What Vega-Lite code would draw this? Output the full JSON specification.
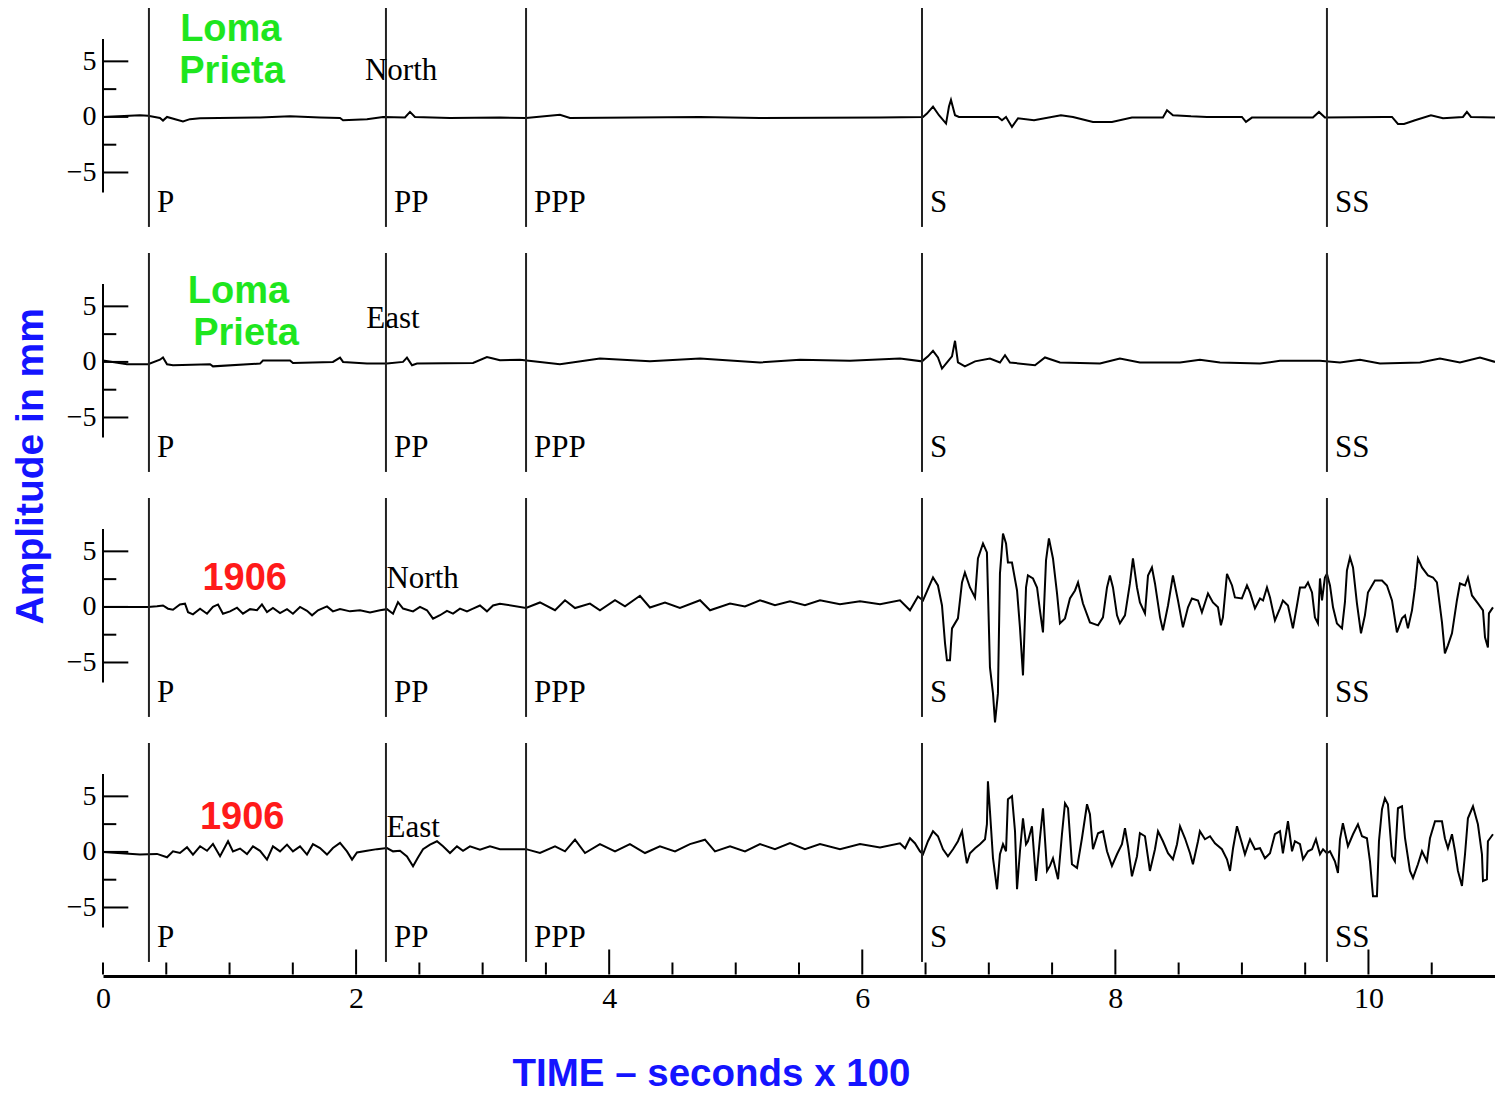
{
  "$schema": "https://vega.github.io/schema/vega-lite/v6.json",
  "background": "white",
  "padding": {"left": 12, "top": 0, "right": 0, "bottom": 0},
  "title": {"text": "Amplitude in mm", "orient": "left", "anchor": "middle", "font": "Liberation Sans", "fontWeight": "bold", "fontSize": 39, "color": "#1414ff", "offset": 15, "dx": 80},
  "data": {"values": [
    {"p":1,"k":"tr","t":0,"a":0},{"p":1,"k":"tr","t":0.292,"a":0.15},{"p":1,"k":"tr","t":0.356,"a":0.1},{"p":1,"k":"tr","t":0.45,"a":-0.1},{"p":1,"k":"tr","t":0.474,"a":-0.33},{"p":1,"k":"tr","t":0.506,"a":0},{"p":1,"k":"tr","t":0.632,"a":-0.4},{"p":1,"k":"tr","t":0.687,"a":-0.2},{"p":1,"k":"tr","t":0.767,"a":-0.12},{"p":1,"k":"tr","t":1.241,"a":-0.05},{"p":1,"k":"tr","t":1.478,"a":0.05},{"p":1,"k":"tr","t":1.715,"a":-0.05},{"p":1,"k":"tr","t":1.873,"a":-0.1},{"p":1,"k":"tr","t":1.897,"a":-0.3},{"p":1,"k":"tr","t":2.086,"a":-0.2},{"p":1,"k":"tr","t":2.213,"a":0},{"p":1,"k":"tr","t":2.386,"a":-0.05},{"p":1,"k":"tr","t":2.426,"a":0.45},{"p":1,"k":"tr","t":2.465,"a":0},{"p":1,"k":"tr","t":2.742,"a":-0.1},{"p":1,"k":"tr","t":3.137,"a":-0.05},{"p":1,"k":"tr","t":3.343,"a":-0.1},{"p":1,"k":"tr","t":3.611,"a":0.2},{"p":1,"k":"tr","t":3.69,"a":-0.1},{"p":1,"k":"tr","t":4.718,"a":0},{"p":1,"k":"tr","t":5.192,"a":-0.1},{"p":1,"k":"tr","t":6.14,"a":-0.05},{"p":1,"k":"tr","t":6.48,"a":0},{"p":1,"k":"tr","t":6.511,"a":0.3},{"p":1,"k":"tr","t":6.559,"a":0.93},{"p":1,"k":"tr","t":6.606,"a":0.15},{"p":1,"k":"tr","t":6.662,"a":-0.6},{"p":1,"k":"tr","t":6.685,"a":0.93},{"p":1,"k":"tr","t":6.701,"a":1.53},{"p":1,"k":"tr","t":6.733,"a":0.15},{"p":1,"k":"tr","t":6.764,"a":0},{"p":1,"k":"tr","t":7.072,"a":0},{"p":1,"k":"tr","t":7.104,"a":-0.3},{"p":1,"k":"tr","t":7.136,"a":0},{"p":1,"k":"tr","t":7.183,"a":-0.9},{"p":1,"k":"tr","t":7.231,"a":-0.12},{"p":1,"k":"tr","t":7.357,"a":-0.3},{"p":1,"k":"tr","t":7.57,"a":0.15},{"p":1,"k":"tr","t":7.665,"a":0},{"p":1,"k":"tr","t":7.823,"a":-0.45},{"p":1,"k":"tr","t":7.973,"a":-0.45},{"p":1,"k":"tr","t":8.131,"a":-0.06},{"p":1,"k":"tr","t":8.376,"a":-0.06},{"p":1,"k":"tr","t":8.408,"a":0.6},{"p":1,"k":"tr","t":8.455,"a":0.15},{"p":1,"k":"tr","t":8.598,"a":0.05},{"p":1,"k":"tr","t":8.724,"a":0},{"p":1,"k":"tr","t":9.0,"a":0},{"p":1,"k":"tr","t":9.032,"a":-0.45},{"p":1,"k":"tr","t":9.079,"a":-0.06},{"p":1,"k":"tr","t":9.561,"a":-0.06},{"p":1,"k":"tr","t":9.609,"a":0.45},{"p":1,"k":"tr","t":9.656,"a":-0.06},{"p":1,"k":"tr","t":10.122,"a":0},{"p":1,"k":"tr","t":10.186,"a":0},{"p":1,"k":"tr","t":10.233,"a":-0.63},{"p":1,"k":"tr","t":10.281,"a":-0.63},{"p":1,"k":"tr","t":10.368,"a":-0.3},{"p":1,"k":"tr","t":10.494,"a":0.15},{"p":1,"k":"tr","t":10.589,"a":-0.12},{"p":1,"k":"tr","t":10.747,"a":0},{"p":1,"k":"tr","t":10.778,"a":0.45},{"p":1,"k":"tr","t":10.81,"a":0},{"p":1,"k":"tr","t":11.0,"a":-0.05},

    {"p":2,"k":"tr","t":0,"a":0.13},{"p":2,"k":"tr","t":0.19,"a":-0.22},{"p":2,"k":"tr","t":0.356,"a":-0.2},{"p":2,"k":"tr","t":0.45,"a":0.2},{"p":2,"k":"tr","t":0.474,"a":0.4},{"p":2,"k":"tr","t":0.506,"a":-0.22},{"p":2,"k":"tr","t":0.553,"a":-0.3},{"p":2,"k":"tr","t":0.846,"a":-0.2},{"p":2,"k":"tr","t":0.869,"a":-0.4},{"p":2,"k":"tr","t":1.241,"a":-0.15},{"p":2,"k":"tr","t":1.264,"a":0.13},{"p":2,"k":"tr","t":1.478,"a":0.13},{"p":2,"k":"tr","t":1.501,"a":-0.1},{"p":2,"k":"tr","t":1.817,"a":0},{"p":2,"k":"tr","t":1.873,"a":0.38},{"p":2,"k":"tr","t":1.897,"a":0},{"p":2,"k":"tr","t":2.086,"a":-0.15},{"p":2,"k":"tr","t":2.244,"a":-0.15},{"p":2,"k":"tr","t":2.371,"a":0},{"p":2,"k":"tr","t":2.402,"a":0.38},{"p":2,"k":"tr","t":2.442,"a":-0.3},{"p":2,"k":"tr","t":2.481,"a":-0.15},{"p":2,"k":"tr","t":2.924,"a":-0.1},{"p":2,"k":"tr","t":3.034,"a":0.43},{"p":2,"k":"tr","t":3.082,"a":0.3},{"p":2,"k":"tr","t":3.137,"a":0.15},{"p":2,"k":"tr","t":3.295,"a":0.2},{"p":2,"k":"tr","t":3.611,"a":-0.2},{"p":2,"k":"tr","t":3.927,"a":0.3},{"p":2,"k":"tr","t":4.322,"a":0.05},{"p":2,"k":"tr","t":4.718,"a":0.3},{"p":2,"k":"tr","t":5.192,"a":-0.05},{"p":2,"k":"tr","t":5.508,"a":0.2},{"p":2,"k":"tr","t":5.903,"a":0.1},{"p":2,"k":"tr","t":6.298,"a":0.3},{"p":2,"k":"tr","t":6.472,"a":0.05},{"p":2,"k":"tr","t":6.519,"a":0.5},{"p":2,"k":"tr","t":6.559,"a":1.0},{"p":2,"k":"tr","t":6.598,"a":0.4},{"p":2,"k":"tr","t":6.63,"a":-0.6},{"p":2,"k":"tr","t":6.67,"a":-0.05},{"p":2,"k":"tr","t":6.709,"a":0.5},{"p":2,"k":"tr","t":6.733,"a":1.9},{"p":2,"k":"tr","t":6.756,"a":-0.05},{"p":2,"k":"tr","t":6.811,"a":-0.4},{"p":2,"k":"tr","t":6.891,"a":0.05},{"p":2,"k":"tr","t":7.009,"a":0.3},{"p":2,"k":"tr","t":7.088,"a":-0.05},{"p":2,"k":"tr","t":7.128,"a":0.6},{"p":2,"k":"tr","t":7.167,"a":-0.05},{"p":2,"k":"tr","t":7.365,"a":-0.3},{"p":2,"k":"tr","t":7.444,"a":0.4},{"p":2,"k":"tr","t":7.562,"a":-0.05},{"p":2,"k":"tr","t":7.878,"a":-0.15},{"p":2,"k":"tr","t":8.036,"a":0.3},{"p":2,"k":"tr","t":8.194,"a":-0.05},{"p":2,"k":"tr","t":8.511,"a":-0.05},{"p":2,"k":"tr","t":8.668,"a":0.2},{"p":2,"k":"tr","t":8.827,"a":-0.05},{"p":2,"k":"tr","t":9.143,"a":-0.15},{"p":2,"k":"tr","t":9.301,"a":0.1},{"p":2,"k":"tr","t":9.617,"a":0.1},{"p":2,"k":"tr","t":9.775,"a":-0.05},{"p":2,"k":"tr","t":9.933,"a":0.2},{"p":2,"k":"tr","t":10.091,"a":-0.15},{"p":2,"k":"tr","t":10.407,"a":-0.05},{"p":2,"k":"tr","t":10.565,"a":0.3},{"p":2,"k":"tr","t":10.723,"a":-0.05},{"p":2,"k":"tr","t":10.881,"a":0.4},{"p":2,"k":"tr","t":11.0,"a":0},

    {"p":3,"k":"tr","t":0,"a":0},{"p":3,"k":"tr","t":0.356,"a":0},{"p":3,"k":"tr","t":0.427,"a":0.05},{"p":3,"k":"tr","t":0.474,"a":0.13},{"p":3,"k":"tr","t":0.514,"a":-0.16},{"p":3,"k":"tr","t":0.553,"a":-0.25},{"p":3,"k":"tr","t":0.608,"a":0.22},{"p":3,"k":"tr","t":0.648,"a":0.29},{"p":3,"k":"tr","t":0.672,"a":-0.47},{"p":3,"k":"tr","t":0.711,"a":-0.67},{"p":3,"k":"tr","t":0.767,"a":-0.16},{"p":3,"k":"tr","t":0.822,"a":-0.61},{"p":3,"k":"tr","t":0.869,"a":0},{"p":3,"k":"tr","t":0.909,"a":0.22},{"p":3,"k":"tr","t":0.948,"a":-0.61},{"p":3,"k":"tr","t":1.004,"a":-0.4},{"p":3,"k":"tr","t":1.059,"a":-0.07},{"p":3,"k":"tr","t":1.106,"a":-0.61},{"p":3,"k":"tr","t":1.162,"a":-0.2},{"p":3,"k":"tr","t":1.217,"a":-0.3},{"p":3,"k":"tr","t":1.256,"a":0.22},{"p":3,"k":"tr","t":1.296,"a":-0.47},{"p":3,"k":"tr","t":1.343,"a":-0.1},{"p":3,"k":"tr","t":1.399,"a":-0.56},{"p":3,"k":"tr","t":1.454,"a":-0.2},{"p":3,"k":"tr","t":1.501,"a":-0.61},{"p":3,"k":"tr","t":1.557,"a":0},{"p":3,"k":"tr","t":1.612,"a":-0.35},{"p":3,"k":"tr","t":1.652,"a":-0.76},{"p":3,"k":"tr","t":1.699,"a":-0.3},{"p":3,"k":"tr","t":1.77,"a":0.05},{"p":3,"k":"tr","t":1.817,"a":-0.4},{"p":3,"k":"tr","t":1.873,"a":-0.2},{"p":3,"k":"tr","t":1.952,"a":-0.4},{"p":3,"k":"tr","t":2.031,"a":-0.3},{"p":3,"k":"tr","t":2.11,"a":-0.5},{"p":3,"k":"tr","t":2.189,"a":-0.3},{"p":3,"k":"tr","t":2.244,"a":-0.2},{"p":3,"k":"tr","t":2.292,"a":-0.61},{"p":3,"k":"tr","t":2.331,"a":0.43},{"p":3,"k":"tr","t":2.371,"a":-0.15},{"p":3,"k":"tr","t":2.45,"a":-0.4},{"p":3,"k":"tr","t":2.505,"a":0},{"p":3,"k":"tr","t":2.56,"a":-0.3},{"p":3,"k":"tr","t":2.608,"a":-1.06},{"p":3,"k":"tr","t":2.663,"a":-0.75},{"p":3,"k":"tr","t":2.718,"a":-0.35},{"p":3,"k":"tr","t":2.766,"a":-0.6},{"p":3,"k":"tr","t":2.821,"a":-0.15},{"p":3,"k":"tr","t":2.876,"a":-0.4},{"p":3,"k":"tr","t":2.924,"a":-0.15},{"p":3,"k":"tr","t":2.979,"a":0.13},{"p":3,"k":"tr","t":3.034,"a":-0.4},{"p":3,"k":"tr","t":3.082,"a":0.13},{"p":3,"k":"tr","t":3.137,"a":0.29},{"p":3,"k":"tr","t":3.343,"a":-0.1},{"p":3,"k":"tr","t":3.453,"a":0.4},{"p":3,"k":"tr","t":3.572,"a":-0.3},{"p":3,"k":"tr","t":3.651,"a":0.6},{"p":3,"k":"tr","t":3.73,"a":-0.1},{"p":3,"k":"tr","t":3.848,"a":0.3},{"p":3,"k":"tr","t":3.927,"a":-0.3},{"p":3,"k":"tr","t":4.046,"a":0.6},{"p":3,"k":"tr","t":4.125,"a":0.05},{"p":3,"k":"tr","t":4.243,"a":1.0},{"p":3,"k":"tr","t":4.322,"a":-0.05},{"p":3,"k":"tr","t":4.441,"a":0.4},{"p":3,"k":"tr","t":4.559,"a":-0.1},{"p":3,"k":"tr","t":4.718,"a":0.6},{"p":3,"k":"tr","t":4.797,"a":-0.3},{"p":3,"k":"tr","t":4.955,"a":0.3},{"p":3,"k":"tr","t":5.073,"a":0.05},{"p":3,"k":"tr","t":5.192,"a":0.6},{"p":3,"k":"tr","t":5.31,"a":0.15},{"p":3,"k":"tr","t":5.429,"a":0.5},{"p":3,"k":"tr","t":5.547,"a":0.15},{"p":3,"k":"tr","t":5.666,"a":0.6},{"p":3,"k":"tr","t":5.824,"a":0.25},{"p":3,"k":"tr","t":5.982,"a":0.5},{"p":3,"k":"tr","t":6.14,"a":0.25},{"p":3,"k":"tr","t":6.298,"a":0.6},{"p":3,"k":"tr","t":6.377,"a":-0.3},{"p":3,"k":"tr","t":6.44,"a":0.94},{"p":3,"k":"tr","t":6.48,"a":0.58},{"p":3,"k":"tr","t":6.559,"a":2.65},{"p":3,"k":"tr","t":6.598,"a":1.93},{"p":3,"k":"tr","t":6.63,"a":0.13},{"p":3,"k":"tr","t":6.654,"a":-3.28},{"p":3,"k":"tr","t":6.669,"a":-4.81},{"p":3,"k":"tr","t":6.693,"a":-4.81},{"p":3,"k":"tr","t":6.709,"a":-1.93},{"p":3,"k":"tr","t":6.756,"a":-1.03},{"p":3,"k":"tr","t":6.788,"a":2.2},{"p":3,"k":"tr","t":6.811,"a":3.1},{"p":3,"k":"tr","t":6.851,"a":1.75},{"p":3,"k":"tr","t":6.891,"a":0.85},{"p":3,"k":"tr","t":6.914,"a":4.36},{"p":3,"k":"tr","t":6.954,"a":5.71},{"p":3,"k":"tr","t":6.985,"a":4.9},{"p":3,"k":"tr","t":6.993,"a":1.48},{"p":3,"k":"tr","t":7.009,"a":-5.44},{"p":3,"k":"tr","t":7.033,"a":-7.78},{"p":3,"k":"tr","t":7.049,"a":-10.4},{"p":3,"k":"tr","t":7.072,"a":-7.78},{"p":3,"k":"tr","t":7.088,"a":3.0},{"p":3,"k":"tr","t":7.112,"a":6.6},{"p":3,"k":"tr","t":7.136,"a":5.71},{"p":3,"k":"tr","t":7.151,"a":4.0},{"p":3,"k":"tr","t":7.183,"a":4.0},{"p":3,"k":"tr","t":7.223,"a":1.48},{"p":3,"k":"tr","t":7.246,"a":-1.84},{"p":3,"k":"tr","t":7.27,"a":-6.16},{"p":3,"k":"tr","t":7.294,"a":1.75},{"p":3,"k":"tr","t":7.309,"a":2.83},{"p":3,"k":"tr","t":7.349,"a":2.56},{"p":3,"k":"tr","t":7.381,"a":1.75},{"p":3,"k":"tr","t":7.404,"a":-0.31},{"p":3,"k":"tr","t":7.428,"a":-2.29},{"p":3,"k":"tr","t":7.452,"a":4.18},{"p":3,"k":"tr","t":7.475,"a":6.16},{"p":3,"k":"tr","t":7.507,"a":4.36},{"p":3,"k":"tr","t":7.539,"a":1.21},{"p":3,"k":"tr","t":7.562,"a":-1.48},{"p":3,"k":"tr","t":7.602,"a":-1.03},{"p":3,"k":"tr","t":7.641,"a":0.76},{"p":3,"k":"tr","t":7.681,"a":1.48},{"p":3,"k":"tr","t":7.705,"a":2.2},{"p":3,"k":"tr","t":7.744,"a":0.31},{"p":3,"k":"tr","t":7.799,"a":-1.39},{"p":3,"k":"tr","t":7.863,"a":-1.66},{"p":3,"k":"tr","t":7.902,"a":-0.94},{"p":3,"k":"tr","t":7.934,"a":1.75},{"p":3,"k":"tr","t":7.957,"a":2.83},{"p":3,"k":"tr","t":7.981,"a":1.75},{"p":3,"k":"tr","t":8.013,"a":-0.76},{"p":3,"k":"tr","t":8.036,"a":-1.48},{"p":3,"k":"tr","t":8.076,"a":-0.76},{"p":3,"k":"tr","t":8.115,"a":2.11},{"p":3,"k":"tr","t":8.139,"a":4.36},{"p":3,"k":"tr","t":8.171,"a":1.75},{"p":3,"k":"tr","t":8.194,"a":0.4},{"p":3,"k":"tr","t":8.234,"a":-0.58},{"p":3,"k":"tr","t":8.258,"a":2.83},{"p":3,"k":"tr","t":8.289,"a":3.55},{"p":3,"k":"tr","t":8.313,"a":2.11},{"p":3,"k":"tr","t":8.353,"a":-0.94},{"p":3,"k":"tr","t":8.376,"a":-2.11},{"p":3,"k":"tr","t":8.416,"a":0.13},{"p":3,"k":"tr","t":8.455,"a":2.83},{"p":3,"k":"tr","t":8.495,"a":0.58},{"p":3,"k":"tr","t":8.534,"a":-1.84},{"p":3,"k":"tr","t":8.574,"a":-0.04},{"p":3,"k":"tr","t":8.605,"a":0.76},{"p":3,"k":"tr","t":8.653,"a":0.58},{"p":3,"k":"tr","t":8.684,"a":-0.49},{"p":3,"k":"tr","t":8.732,"a":1.21},{"p":3,"k":"tr","t":8.771,"a":0.4},{"p":3,"k":"tr","t":8.811,"a":-0.04},{"p":3,"k":"tr","t":8.834,"a":-1.66},{"p":3,"k":"tr","t":8.85,"a":-0.94},{"p":3,"k":"tr","t":8.882,"a":2.98},{"p":3,"k":"tr","t":8.922,"a":1.93},{"p":3,"k":"tr","t":8.945,"a":0.85},{"p":3,"k":"tr","t":9.0,"a":0.76},{"p":3,"k":"tr","t":9.04,"a":1.93},{"p":3,"k":"tr","t":9.064,"a":1.3},{"p":3,"k":"tr","t":9.103,"a":-0.13},{"p":3,"k":"tr","t":9.143,"a":0.76},{"p":3,"k":"tr","t":9.167,"a":0.58},{"p":3,"k":"tr","t":9.198,"a":1.75},{"p":3,"k":"tr","t":9.222,"a":0.85},{"p":3,"k":"tr","t":9.261,"a":-1.21},{"p":3,"k":"tr","t":9.301,"a":-0.13},{"p":3,"k":"tr","t":9.324,"a":0.58},{"p":3,"k":"tr","t":9.364,"a":0.13},{"p":3,"k":"tr","t":9.403,"a":-1.93},{"p":3,"k":"tr","t":9.435,"a":0.13},{"p":3,"k":"tr","t":9.459,"a":1.75},{"p":3,"k":"tr","t":9.498,"a":1.75},{"p":3,"k":"tr","t":9.522,"a":2.2},{"p":3,"k":"tr","t":9.554,"a":1.3},{"p":3,"k":"tr","t":9.577,"a":-0.94},{"p":3,"k":"tr","t":9.601,"a":-1.48},{"p":3,"k":"tr","t":9.617,"a":2.56},{"p":3,"k":"tr","t":9.633,"a":0.58},{"p":3,"k":"tr","t":9.656,"a":2.65},{"p":3,"k":"tr","t":9.672,"a":2.98},{"p":3,"k":"tr","t":9.696,"a":1.93},{"p":3,"k":"tr","t":9.72,"a":-0.04},{"p":3,"k":"tr","t":9.751,"a":-1.48},{"p":3,"k":"tr","t":9.791,"a":-1.93},{"p":3,"k":"tr","t":9.814,"a":0.4},{"p":3,"k":"tr","t":9.83,"a":3.28},{"p":3,"k":"tr","t":9.854,"a":4.45},{"p":3,"k":"tr","t":9.878,"a":3.55},{"p":3,"k":"tr","t":9.909,"a":0.31},{"p":3,"k":"tr","t":9.941,"a":-2.38},{"p":3,"k":"tr","t":9.972,"a":-0.76},{"p":3,"k":"tr","t":9.996,"a":1.3},{"p":3,"k":"tr","t":10.051,"a":2.38},{"p":3,"k":"tr","t":10.107,"a":2.38},{"p":3,"k":"tr","t":10.146,"a":1.93},{"p":3,"k":"tr","t":10.186,"a":0.58},{"p":3,"k":"tr","t":10.225,"a":-2.29},{"p":3,"k":"tr","t":10.265,"a":-1.03},{"p":3,"k":"tr","t":10.289,"a":-0.76},{"p":3,"k":"tr","t":10.312,"a":-1.93},{"p":3,"k":"tr","t":10.344,"a":-0.31},{"p":3,"k":"tr","t":10.368,"a":1.75},{"p":3,"k":"tr","t":10.391,"a":4.36},{"p":3,"k":"tr","t":10.423,"a":3.55},{"p":3,"k":"tr","t":10.47,"a":2.83},{"p":3,"k":"tr","t":10.51,"a":2.65},{"p":3,"k":"tr","t":10.541,"a":2.2},{"p":3,"k":"tr","t":10.581,"a":-1.39},{"p":3,"k":"tr","t":10.604,"a":-4.18},{"p":3,"k":"tr","t":10.628,"a":-3.46},{"p":3,"k":"tr","t":10.66,"a":-2.38},{"p":3,"k":"tr","t":10.699,"a":0.58},{"p":3,"k":"tr","t":10.723,"a":2.11},{"p":3,"k":"tr","t":10.763,"a":1.93},{"p":3,"k":"tr","t":10.786,"a":2.65},{"p":3,"k":"tr","t":10.818,"a":1.03},{"p":3,"k":"tr","t":10.865,"a":0.31},{"p":3,"k":"tr","t":10.905,"a":-0.31},{"p":3,"k":"tr","t":10.921,"a":-2.74},{"p":3,"k":"tr","t":10.944,"a":-3.64},{"p":3,"k":"tr","t":10.952,"a":-0.58},{"p":3,"k":"tr","t":10.984,"a":-0.04},

    {"p":4,"k":"tr","t":0,"a":0},{"p":4,"k":"tr","t":0.292,"a":-0.24},{"p":4,"k":"tr","t":0.356,"a":-0.2},{"p":4,"k":"tr","t":0.427,"a":-0.18},{"p":4,"k":"tr","t":0.506,"a":-0.48},{"p":4,"k":"tr","t":0.553,"a":0.06},{"p":4,"k":"tr","t":0.608,"a":-0.1},{"p":4,"k":"tr","t":0.664,"a":0.42},{"p":4,"k":"tr","t":0.711,"a":-0.24},{"p":4,"k":"tr","t":0.767,"a":0.51},{"p":4,"k":"tr","t":0.822,"a":0.1},{"p":4,"k":"tr","t":0.869,"a":0.72},{"p":4,"k":"tr","t":0.925,"a":-0.39},{"p":4,"k":"tr","t":0.988,"a":0.96},{"p":4,"k":"tr","t":1.027,"a":0.05},{"p":4,"k":"tr","t":1.083,"a":0.3},{"p":4,"k":"tr","t":1.138,"a":-0.2},{"p":4,"k":"tr","t":1.185,"a":0.5},{"p":4,"k":"tr","t":1.241,"a":0.1},{"p":4,"k":"tr","t":1.296,"a":-0.69},{"p":4,"k":"tr","t":1.343,"a":0.5},{"p":4,"k":"tr","t":1.399,"a":0.05},{"p":4,"k":"tr","t":1.454,"a":0.66},{"p":4,"k":"tr","t":1.501,"a":0.05},{"p":4,"k":"tr","t":1.557,"a":0.5},{"p":4,"k":"tr","t":1.612,"a":-0.24},{"p":4,"k":"tr","t":1.659,"a":0.7},{"p":4,"k":"tr","t":1.715,"a":0.35},{"p":4,"k":"tr","t":1.77,"a":-0.24},{"p":4,"k":"tr","t":1.817,"a":0.35},{"p":4,"k":"tr","t":1.873,"a":0.81},{"p":4,"k":"tr","t":1.928,"a":0.05},{"p":4,"k":"tr","t":1.968,"a":-0.69},{"p":4,"k":"tr","t":2.007,"a":-0.05},{"p":4,"k":"tr","t":2.086,"a":0.1},{"p":4,"k":"tr","t":2.165,"a":0.25},{"p":4,"k":"tr","t":2.244,"a":0.35},{"p":4,"k":"tr","t":2.292,"a":0.05},{"p":4,"k":"tr","t":2.347,"a":0.1},{"p":4,"k":"tr","t":2.402,"a":-0.4},{"p":4,"k":"tr","t":2.45,"a":-1.29},{"p":4,"k":"tr","t":2.489,"a":-0.5},{"p":4,"k":"tr","t":2.529,"a":0.25},{"p":4,"k":"tr","t":2.584,"a":0.66},{"p":4,"k":"tr","t":2.639,"a":0.96},{"p":4,"k":"tr","t":2.687,"a":0.5},{"p":4,"k":"tr","t":2.742,"a":-0.1},{"p":4,"k":"tr","t":2.797,"a":0.5},{"p":4,"k":"tr","t":2.845,"a":0.1},{"p":4,"k":"tr","t":2.9,"a":0.5},{"p":4,"k":"tr","t":2.979,"a":0.2},{"p":4,"k":"tr","t":3.058,"a":0.5},{"p":4,"k":"tr","t":3.137,"a":0.25},{"p":4,"k":"tr","t":3.343,"a":0.25},{"p":4,"k":"tr","t":3.453,"a":-0.1},{"p":4,"k":"tr","t":3.572,"a":0.5},{"p":4,"k":"tr","t":3.651,"a":0.05},{"p":4,"k":"tr","t":3.73,"a":1.1},{"p":4,"k":"tr","t":3.809,"a":-0.1},{"p":4,"k":"tr","t":3.927,"a":0.7},{"p":4,"k":"tr","t":4.046,"a":0.05},{"p":4,"k":"tr","t":4.164,"a":0.7},{"p":4,"k":"tr","t":4.283,"a":-0.1},{"p":4,"k":"tr","t":4.401,"a":0.5},{"p":4,"k":"tr","t":4.52,"a":0.05},{"p":4,"k":"tr","t":4.638,"a":0.7},{"p":4,"k":"tr","t":4.757,"a":1.1},{"p":4,"k":"tr","t":4.836,"a":0.05},{"p":4,"k":"tr","t":4.955,"a":0.5},{"p":4,"k":"tr","t":5.073,"a":0.05},{"p":4,"k":"tr","t":5.192,"a":0.7},{"p":4,"k":"tr","t":5.31,"a":0.25},{"p":4,"k":"tr","t":5.429,"a":0.8},{"p":4,"k":"tr","t":5.547,"a":0.25},{"p":4,"k":"tr","t":5.666,"a":0.7},{"p":4,"k":"tr","t":5.824,"a":0.25},{"p":4,"k":"tr","t":5.982,"a":0.7},{"p":4,"k":"tr","t":6.14,"a":0.4},{"p":4,"k":"tr","t":6.298,"a":0.78},{"p":4,"k":"tr","t":6.338,"a":0.33},{"p":4,"k":"tr","t":6.377,"a":1.23},{"p":4,"k":"tr","t":6.416,"a":0.78},{"p":4,"k":"tr","t":6.456,"a":0.06},{"p":4,"k":"tr","t":6.48,"a":-0.21},{"p":4,"k":"tr","t":6.519,"a":0.96},{"p":4,"k":"tr","t":6.559,"a":1.86},{"p":4,"k":"tr","t":6.598,"a":1.41},{"p":4,"k":"tr","t":6.638,"a":0.24},{"p":4,"k":"tr","t":6.677,"a":-0.39},{"p":4,"k":"tr","t":6.717,"a":0.24},{"p":4,"k":"tr","t":6.756,"a":0.96},{"p":4,"k":"tr","t":6.788,"a":1.86},{"p":4,"k":"tr","t":6.811,"a":0.06},{"p":4,"k":"tr","t":6.827,"a":-1.02},{"p":4,"k":"tr","t":6.851,"a":-0.12},{"p":4,"k":"tr","t":6.891,"a":0.33},{"p":4,"k":"tr","t":6.93,"a":0.69},{"p":4,"k":"tr","t":6.97,"a":1.14},{"p":4,"k":"tr","t":6.985,"a":2.49},{"p":4,"k":"tr","t":6.993,"a":6.36},{"p":4,"k":"tr","t":7.009,"a":3.66},{"p":4,"k":"tr","t":7.033,"a":-0.57},{"p":4,"k":"tr","t":7.065,"a":-3.36},{"p":4,"k":"tr","t":7.088,"a":-0.21},{"p":4,"k":"tr","t":7.112,"a":0.69},{"p":4,"k":"tr","t":7.136,"a":0.06},{"p":4,"k":"tr","t":7.151,"a":4.74},{"p":4,"k":"tr","t":7.183,"a":5.01},{"p":4,"k":"tr","t":7.207,"a":1.86},{"p":4,"k":"tr","t":7.223,"a":-3.36},{"p":4,"k":"tr","t":7.246,"a":0.06},{"p":4,"k":"tr","t":7.27,"a":3.03},{"p":4,"k":"tr","t":7.294,"a":0.69},{"p":4,"k":"tr","t":7.309,"a":0.96},{"p":4,"k":"tr","t":7.341,"a":2.31},{"p":4,"k":"tr","t":7.373,"a":-2.61},{"p":4,"k":"tr","t":7.404,"a":1.23},{"p":4,"k":"tr","t":7.428,"a":3.93},{"p":4,"k":"tr","t":7.46,"a":-1.71},{"p":4,"k":"tr","t":7.483,"a":-1.26},{"p":4,"k":"tr","t":7.507,"a":-0.57},{"p":4,"k":"tr","t":7.547,"a":-2.46},{"p":4,"k":"tr","t":7.578,"a":1.59},{"p":4,"k":"tr","t":7.602,"a":4.38},{"p":4,"k":"tr","t":7.626,"a":3.93},{"p":4,"k":"tr","t":7.657,"a":-1.11},{"p":4,"k":"tr","t":7.697,"a":-1.44},{"p":4,"k":"tr","t":7.736,"a":1.23},{"p":4,"k":"tr","t":7.776,"a":4.29},{"p":4,"k":"tr","t":7.799,"a":3.39},{"p":4,"k":"tr","t":7.823,"a":0.24},{"p":4,"k":"tr","t":7.863,"a":1.68},{"p":4,"k":"tr","t":7.902,"a":1.86},{"p":4,"k":"tr","t":7.934,"a":0.06},{"p":4,"k":"tr","t":7.973,"a":-1.26},{"p":4,"k":"tr","t":8.013,"a":-0.21},{"p":4,"k":"tr","t":8.052,"a":0.69},{"p":4,"k":"tr","t":8.076,"a":2.13},{"p":4,"k":"tr","t":8.1,"a":0.51},{"p":4,"k":"tr","t":8.131,"a":-2.19},{"p":4,"k":"tr","t":8.171,"a":-0.39},{"p":4,"k":"tr","t":8.194,"a":1.68},{"p":4,"k":"tr","t":8.234,"a":1.41},{"p":4,"k":"tr","t":8.273,"a":-1.71},{"p":4,"k":"tr","t":8.313,"a":0.24},{"p":4,"k":"tr","t":8.337,"a":1.86},{"p":4,"k":"tr","t":8.376,"a":0.96},{"p":4,"k":"tr","t":8.416,"a":-0.12},{"p":4,"k":"tr","t":8.455,"a":-0.66},{"p":4,"k":"tr","t":8.487,"a":0.69},{"p":4,"k":"tr","t":8.511,"a":2.31},{"p":4,"k":"tr","t":8.55,"a":1.23},{"p":4,"k":"tr","t":8.59,"a":-0.12},{"p":4,"k":"tr","t":8.613,"a":-1.11},{"p":4,"k":"tr","t":8.653,"a":0.96},{"p":4,"k":"tr","t":8.668,"a":1.86},{"p":4,"k":"tr","t":8.708,"a":1.14},{"p":4,"k":"tr","t":8.748,"a":1.41},{"p":4,"k":"tr","t":8.787,"a":0.78},{"p":4,"k":"tr","t":8.842,"a":0.24},{"p":4,"k":"tr","t":8.882,"a":-0.66},{"p":4,"k":"tr","t":8.906,"a":-1.71},{"p":4,"k":"tr","t":8.93,"a":0.33},{"p":4,"k":"tr","t":8.961,"a":2.31},{"p":4,"k":"tr","t":9.0,"a":0.78},{"p":4,"k":"tr","t":9.024,"a":-0.21},{"p":4,"k":"tr","t":9.064,"a":1.14},{"p":4,"k":"tr","t":9.103,"a":0.24},{"p":4,"k":"tr","t":9.143,"a":0.33},{"p":4,"k":"tr","t":9.182,"a":-0.57},{"p":4,"k":"tr","t":9.222,"a":-0.12},{"p":4,"k":"tr","t":9.261,"a":1.59},{"p":4,"k":"tr","t":9.301,"a":1.86},{"p":4,"k":"tr","t":9.324,"a":-0.12},{"p":4,"k":"tr","t":9.364,"a":2.76},{"p":4,"k":"tr","t":9.396,"a":0.06},{"p":4,"k":"tr","t":9.419,"a":0.96},{"p":4,"k":"tr","t":9.459,"a":0.69},{"p":4,"k":"tr","t":9.483,"a":-0.66},{"p":4,"k":"tr","t":9.522,"a":0.06},{"p":4,"k":"tr","t":9.554,"a":0.24},{"p":4,"k":"tr","t":9.585,"a":1.14},{"p":4,"k":"tr","t":9.617,"a":-0.21},{"p":4,"k":"tr","t":9.641,"a":0.24},{"p":4,"k":"tr","t":9.672,"a":-0.12},{"p":4,"k":"tr","t":9.696,"a":0.06},{"p":4,"k":"tr","t":9.735,"a":-0.84},{"p":4,"k":"tr","t":9.759,"a":-1.89},{"p":4,"k":"tr","t":9.775,"a":1.14},{"p":4,"k":"tr","t":9.798,"a":2.58},{"p":4,"k":"tr","t":9.838,"a":0.51},{"p":4,"k":"tr","t":9.878,"a":1.59},{"p":4,"k":"tr","t":9.917,"a":2.49},{"p":4,"k":"tr","t":9.949,"a":1.41},{"p":4,"k":"tr","t":9.988,"a":1.23},{"p":4,"k":"tr","t":10.012,"a":-0.84},{"p":4,"k":"tr","t":10.036,"a":-3.99},{"p":4,"k":"tr","t":10.067,"a":-3.99},{"p":4,"k":"tr","t":10.083,"a":0.96},{"p":4,"k":"tr","t":10.107,"a":3.84},{"p":4,"k":"tr","t":10.13,"a":4.83},{"p":4,"k":"tr","t":10.154,"a":4.29},{"p":4,"k":"tr","t":10.186,"a":-0.39},{"p":4,"k":"tr","t":10.209,"a":-0.84},{"p":4,"k":"tr","t":10.233,"a":3.93},{"p":4,"k":"tr","t":10.265,"a":4.11},{"p":4,"k":"tr","t":10.289,"a":1.23},{"p":4,"k":"tr","t":10.328,"a":-1.71},{"p":4,"k":"tr","t":10.352,"a":-2.34},{"p":4,"k":"tr","t":10.391,"a":-1.11},{"p":4,"k":"tr","t":10.423,"a":0.06},{"p":4,"k":"tr","t":10.462,"a":-0.84},{"p":4,"k":"tr","t":10.486,"a":1.23},{"p":4,"k":"tr","t":10.526,"a":2.76},{"p":4,"k":"tr","t":10.581,"a":2.76},{"p":4,"k":"tr","t":10.604,"a":1.23},{"p":4,"k":"tr","t":10.628,"a":0.33},{"p":4,"k":"tr","t":10.66,"a":1.59},{"p":4,"k":"tr","t":10.684,"a":0.06},{"p":4,"k":"tr","t":10.707,"a":-1.71},{"p":4,"k":"tr","t":10.739,"a":-3.06},{"p":4,"k":"tr","t":10.763,"a":-0.21},{"p":4,"k":"tr","t":10.786,"a":3.03},{"p":4,"k":"tr","t":10.826,"a":4.11},{"p":4,"k":"tr","t":10.865,"a":2.49},{"p":4,"k":"tr","t":10.897,"a":-0.21},{"p":4,"k":"tr","t":10.905,"a":-2.61},{"p":4,"k":"tr","t":10.936,"a":-2.46},{"p":4,"k":"tr","t":10.944,"a":0.96},{"p":4,"k":"tr","t":10.984,"a":1.59},

    {"p":1,"k":"ph","t":0.363,"lab":"P"},{"p":1,"k":"ph","t":2.236,"lab":"PP"},{"p":1,"k":"ph","t":3.343,"lab":"PPP"},{"p":1,"k":"ph","t":6.472,"lab":"S"},{"p":1,"k":"ph","t":9.672,"lab":"SS"},
    {"p":2,"k":"ph","t":0.363,"lab":"P"},{"p":2,"k":"ph","t":2.236,"lab":"PP"},{"p":2,"k":"ph","t":3.343,"lab":"PPP"},{"p":2,"k":"ph","t":6.472,"lab":"S"},{"p":2,"k":"ph","t":9.672,"lab":"SS"},
    {"p":3,"k":"ph","t":0.363,"lab":"P"},{"p":3,"k":"ph","t":2.236,"lab":"PP"},{"p":3,"k":"ph","t":3.343,"lab":"PPP"},{"p":3,"k":"ph","t":6.472,"lab":"S"},{"p":3,"k":"ph","t":9.672,"lab":"SS"},
    {"p":4,"k":"ph","t":0.363,"lab":"P"},{"p":4,"k":"ph","t":2.236,"lab":"PP"},{"p":4,"k":"ph","t":3.343,"lab":"PPP"},{"p":4,"k":"ph","t":6.472,"lab":"S"},{"p":4,"k":"ph","t":9.672,"lab":"SS"},

    {"p":1,"k":"ya"},{"p":2,"k":"ya"},{"p":3,"k":"ya"},{"p":4,"k":"ya"},
    {"p":1,"k":"yt","a":-5},{"p":1,"k":"yt","a":0},{"p":1,"k":"yt","a":5},{"p":1,"k":"ym","a":-2.5},{"p":1,"k":"ym","a":2.5},
    {"p":2,"k":"yt","a":-5},{"p":2,"k":"yt","a":0},{"p":2,"k":"yt","a":5},{"p":2,"k":"ym","a":-2.5},{"p":2,"k":"ym","a":2.5},
    {"p":3,"k":"yt","a":-5},{"p":3,"k":"yt","a":0},{"p":3,"k":"yt","a":5},{"p":3,"k":"ym","a":-2.5},{"p":3,"k":"ym","a":2.5},
    {"p":4,"k":"yt","a":-5},{"p":4,"k":"yt","a":0},{"p":4,"k":"yt","a":5},{"p":4,"k":"ym","a":-2.5},{"p":4,"k":"ym","a":2.5},

    {"p":4,"k":"xt","t":2},{"p":4,"k":"xt","t":4},{"p":4,"k":"xt","t":6},{"p":4,"k":"xt","t":8},{"p":4,"k":"xt","t":10},
    {"p":4,"k":"xm","t":0},{"p":4,"k":"xm","t":0.5},{"p":4,"k":"xm","t":1},{"p":4,"k":"xm","t":1.5},{"p":4,"k":"xm","t":2.5},{"p":4,"k":"xm","t":3},{"p":4,"k":"xm","t":3.5},{"p":4,"k":"xm","t":4.5},{"p":4,"k":"xm","t":5},{"p":4,"k":"xm","t":5.5},{"p":4,"k":"xm","t":6.5},{"p":4,"k":"xm","t":7},{"p":4,"k":"xm","t":7.5},{"p":4,"k":"xm","t":8.5},{"p":4,"k":"xm","t":9},{"p":4,"k":"xm","t":9.5},{"p":4,"k":"xm","t":10.5},

    {"p":1,"k":"ev","t":1.01,"a":6.83,"txt":"Loma","ev":"Loma Prieta"},{"p":1,"k":"ev","t":1.02,"a":3.06,"txt":"Prieta","ev":"Loma Prieta"},
    {"p":2,"k":"ev","t":1.07,"a":5.26,"txt":"Loma","ev":"Loma Prieta"},{"p":2,"k":"ev","t":1.13,"a":1.48,"txt":"Prieta","ev":"Loma Prieta"},
    {"p":3,"k":"ev","t":1.12,"a":1.48,"txt":"1906","ev":"1906"},
    {"p":4,"k":"ev","t":1.1,"a":2.04,"txt":"1906","ev":"1906"},
    {"p":1,"k":"cm","t":2.07,"a":3.33,"txt":"North"},
    {"p":2,"k":"cm","t":2.08,"a":3.01,"txt":"East"},
    {"p":3,"k":"cm","t":2.24,"a":1.66,"txt":"North"},
    {"p":4,"k":"cm","t":2.24,"a":1.32,"txt":"East"}
  ]},
  "facet": {
    "row": {"field": "p", "type": "ordinal", "header": {"labels": false, "title": null, "labelPadding": 0, "titlePadding": 0}}
  },
  "spacing": {"row": 4},
  "spec": {
    "width": 1392,
    "height": 239.5,
    "layer": [
      {
        "transform": [{"filter": "datum.k === 'tr'"}],
        "mark": {"type": "line", "color": "black", "strokeWidth": 2, "strokeJoin": "miter"},
        "encoding": {
          "x": {"field": "t", "type": "quantitative",
                "scale": {"domain": [0, 11], "nice": false, "zero": false},
                "axis": {"title": "TIME – seconds x 100", "values": [0, 2, 4, 6, 8, 10], "format": "d",
                         "ticks": false, "domainWidth": 3, "domainColor": "black", "grid": false, "labelFlush": false,
                         "labelFont": "Liberation Serif", "labelFontSize": 30, "labelColor": "black", "labelPadding": 7,
                         "titleFont": "Liberation Sans", "titleFontWeight": "bold", "titleFontSize": 38.5, "titleColor": "#1414ff",
                         "titleX": 608, "titleY": 109, "titleBaseline": "alphabetic", "titleAlign": "center"}},
          "y": {"field": "a", "type": "quantitative",
                "scale": {"domain": [-11.03, 10.52], "nice": false, "zero": false},
                "axis": {"title": null, "values": [-5, 0, 5], "ticks": false, "domain": false, "grid": false,
                         "labelFont": "Liberation Serif", "labelFontSize": 28, "labelColor": "black", "labelPadding": 3}}
        }
      },
      {
        "transform": [{"filter": "datum.k === 'ph'"}],
        "mark": {"type": "rule", "color": "#222", "strokeWidth": 2},
        "encoding": {"x": {"field": "t", "type": "quantitative"}, "y": {"datum": 9.8}, "y2": {"datum": -9.9}}
      },
      {
        "transform": [{"filter": "datum.k === 'ph'"}],
        "mark": {"type": "text", "align": "left", "baseline": "alphabetic", "dx": 8, "font": "Liberation Serif", "fontSize": 31, "color": "black"},
        "encoding": {"x": {"field": "t", "type": "quantitative"}, "y": {"datum": -8.6}, "text": {"field": "lab"}}
      },
      {
        "transform": [{"filter": "datum.k === 'ya'"}],
        "mark": {"type": "rule", "color": "black", "strokeWidth": 2},
        "encoding": {"x": {"datum": 0}, "y": {"datum": 7}, "y2": {"datum": -6.8}}
      },
      {
        "transform": [{"filter": "datum.k === 'yt'"}],
        "mark": {"type": "rule", "color": "black", "strokeWidth": 2},
        "encoding": {"x": {"datum": 0}, "x2": {"datum": 0.2}, "y": {"field": "a", "type": "quantitative"}}
      },
      {
        "transform": [{"filter": "datum.k === 'ym'"}],
        "mark": {"type": "rule", "color": "black", "strokeWidth": 2},
        "encoding": {"x": {"datum": 0}, "x2": {"datum": 0.105}, "y": {"field": "a", "type": "quantitative"}}
      },
      {
        "transform": [{"filter": "datum.k === 'xt'"}],
        "mark": {"type": "rule", "color": "black", "strokeWidth": 2},
        "encoding": {"x": {"field": "t", "type": "quantitative"}, "y": {"datum": -11.03}, "y2": {"datum": -8.78}}
      },
      {
        "transform": [{"filter": "datum.k === 'xm'"}],
        "mark": {"type": "rule", "color": "black", "strokeWidth": 2},
        "encoding": {"x": {"field": "t", "type": "quantitative"}, "y": {"datum": -11.03}, "y2": {"datum": -9.95}}
      },
      {
        "transform": [{"filter": "datum.k === 'ev'"}],
        "mark": {"type": "text", "align": "center", "baseline": "alphabetic", "font": "Liberation Sans", "fontWeight": "bold", "fontSize": 38},
        "encoding": {
          "x": {"field": "t", "type": "quantitative"}, "y": {"field": "a", "type": "quantitative"},
          "text": {"field": "txt"},
          "color": {"field": "ev", "type": "nominal", "scale": {"domain": ["Loma Prieta", "1906"], "range": ["#1ee61e", "#ff1a1a"]}, "legend": null}
        }
      },
      {
        "transform": [{"filter": "datum.k === 'cm'"}],
        "mark": {"type": "text", "align": "left", "baseline": "alphabetic", "font": "Liberation Serif", "fontSize": 31, "color": "black"},
        "encoding": {"x": {"field": "t", "type": "quantitative"}, "y": {"field": "a", "type": "quantitative"}, "text": {"field": "txt"}}
      }
    ]
  },
  "config": {"view": {"stroke": null}, "axis": {"grid": false}}
}
